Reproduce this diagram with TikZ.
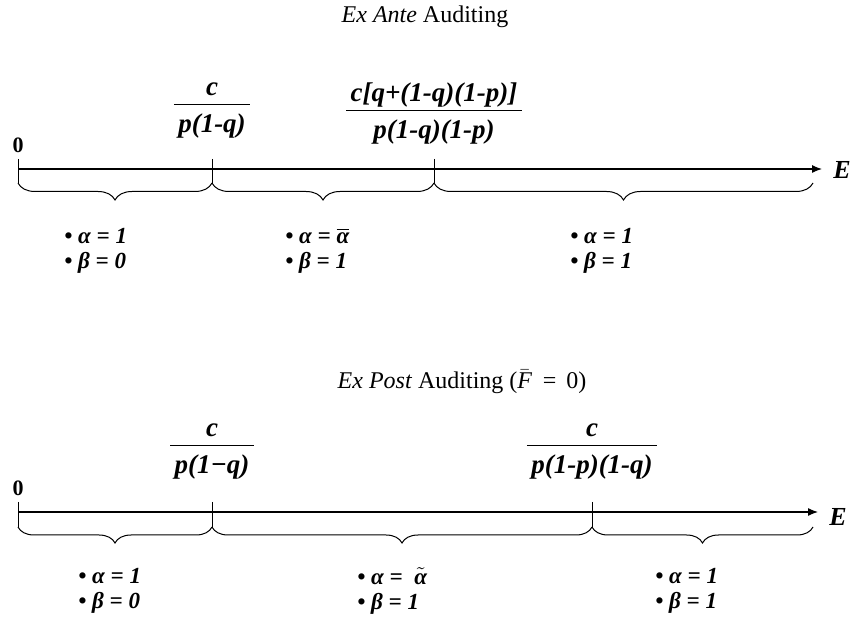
\documentclass[tikz,border=0pt]{standalone}
\usepackage{fontspec}
\setmainfont{Liberation Serif}
\usepackage{graphicx}
\usetikzlibrary{arrows.meta,decorations.pathreplacing}
\newcommand{\bfi}{\bfseries\itshape}
\newcommand{\frc}[2]{\begin{tabular}{@{\,}c@{\,}}#1\\[0pt]\hline\rule{0pt}{14pt}#2\end{tabular}}
\newcommand{\abar}{$\overline{\mbox{\bfi α}}$}
\newcommand{\atil}{$\tilde{\mbox{\bfi α}}$}

\begin{document}
\begin{tikzpicture}[x=0.5pt,y=-0.5pt,
  axisline/.style={line width=0.6pt,-{Latex[length=5pt,width=4pt]}},
  tickline/.style={line width=0.5pt},
  brc/.style={line width=0.5pt,decorate,decoration={brace,mirror,amplitude=#1}},
  fraclbl/.style={font=\fontsize{13.5}{15}\selectfont\bfi,inner sep=0pt},
  zerolbl/.style={font=\fontsize{11}{13}\selectfont\bfseries},
  ttl/.style={font=\fontsize{12}{14}\selectfont},
  items/.style={font=\fontsize{11.5}{12.5}\selectfont\bfi,align=left,anchor=west,inner sep=0pt}]
\useasboundingbox (0,0) rectangle (851,619);
% ex ante
\node[ttl] (ttlA) at (425,17) {\textit{Ex Ante} Auditing};
\node[fraclbl] (fA1) at (212,108) {\frc{c}{p(1-q)}};
\node[fraclbl] (fA2) at (434,114) {\frc{c[q+(1-q)(1-p)]}{p(1-q)(1-p)}};
\node[zerolbl] (zeroA) at (18,145) {0};
\coordinate (oA) at (18,169);
\coordinate (endA) at (822,169);
\draw[axisline] (oA) -- (endA);
\node[font=\fontsize{13}{15}\selectfont\bfi] (EA) at (842,170) {E};
\coordinate (tA0) at (18,159);
\coordinate (tA1) at (212,159);
\coordinate (tA2) at (434,159);
\coordinate (bA0) at (18,183);
\coordinate (bA1) at (212,183);
\coordinate (bA2) at (434,183);
\coordinate (bA3) at (813,183);
\draw[tickline] (tA0) -- (bA0);
\draw[tickline] (tA1) -- (bA1);
\draw[tickline] (tA2) -- (bA2);
\draw[brc=8.5pt] (bA0) -- (bA1);
\draw[brc=8.5pt] (bA1) -- (bA2);
\draw[brc=8.5pt] (bA2) -- (bA3);
\node[items] (sA1) at (64,251) {• α = 1\\• β = 0};
\node[items] (sA2) at (285,251) {• α = \abar\\• β = 1};
\node[items] (sA3) at (570,251) {• α = 1\\• β = 1};
% ex post
\node[ttl] (ttlB) at (462,382) {\textit{Ex Post} Auditing ($\bar{\mbox{\itshape F}}$\;\,= \,0)};
\node[fraclbl] (fB1) at (212,449) {\frc{c}{p(1−q)}};
\node[fraclbl] (fB2) at (592,449) {\frc{c}{p(1-p)(1-q)}};
\node[zerolbl] (zeroB) at (18,488) {0};
\coordinate (oB) at (18,512);
\coordinate (endB) at (818,512);
\draw[axisline] (oB) -- (endB);
\node[font=\fontsize{13}{15}\selectfont\bfi] (EB) at (838,517) {E};
\coordinate (tB0) at (18,502);
\coordinate (tB1) at (212,502);
\coordinate (tB2) at (592,502);
\coordinate (bB0) at (18,527);
\coordinate (bB1) at (212,527);
\coordinate (bB2) at (592,527);
\coordinate (bB3) at (813,527);
\draw[tickline] (tB0) -- (bB0);
\draw[tickline] (tB1) -- (bB1);
\draw[tickline] (tB2) -- (bB2);
\draw[brc=8pt] (bB0) -- (bB1);
\draw[brc=8pt] (bB1) -- (bB2);
\draw[brc=8pt] (bB2) -- (bB3);
\node[items] (sB1) at (78,591) {• α = 1\\• β = 0};
\node[items] (sB2) at (357,591) {• α = \ \atil\\• β = 1};
\node[items] (sB3) at (655,591) {• α = 1\\• β = 1};
\end{tikzpicture}
\end{document}
